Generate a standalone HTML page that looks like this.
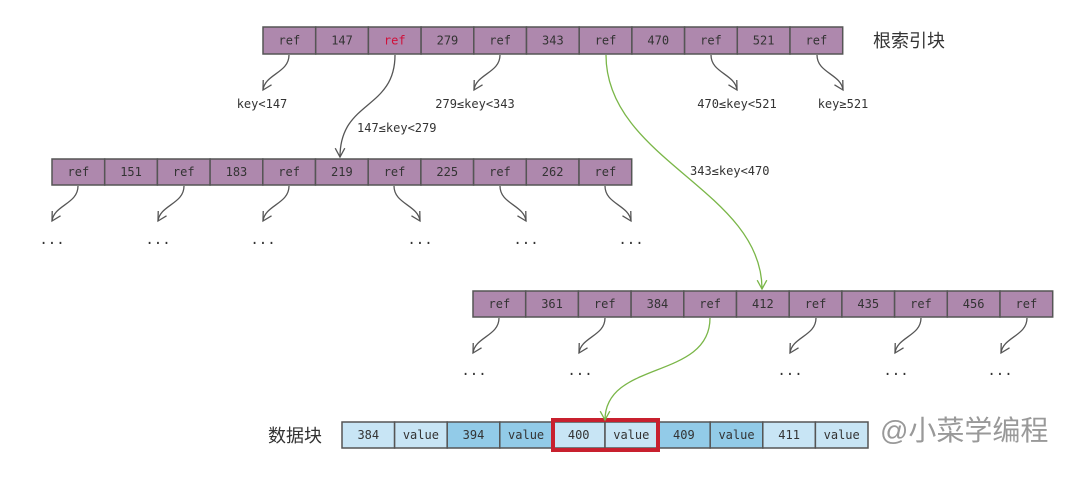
<!DOCTYPE html>
<html><head><meta charset="utf-8"><style>
body{margin:0;background:#fff;width:1080px;height:474px;overflow:hidden}
svg{font-family:"DejaVu Sans Mono","Liberation Mono",monospace}
</style></head><body>
<svg width="1080" height="474" xmlns="http://www.w3.org/2000/svg">
<g id="cells" font-size="12" text-anchor="middle" fill="#333"></g>
<g id="lines" fill="none" stroke="#555" stroke-width="1.3"></g>
<g id="txt" font-size="12" fill="#333"></g>
<text x="873" y="47" font-family="'Liberation Sans','Noto Sans CJK SC',sans-serif" font-size="18" fill="#333">根索引块</text>
<text x="268" y="442" font-family="'Liberation Sans','Noto Sans CJK SC',sans-serif" font-size="18" fill="#333">数据块</text>
<text x="880" y="440" font-family="'Liberation Sans','Noto Sans CJK SC',sans-serif" font-size="28" fill="#999">@小菜学编程</text>
</svg>
<script>
const NS="http://www.w3.org/2000/svg";
const cells=document.getElementById('cells'),lines=document.getElementById('lines'),txt=document.getElementById('txt');
function el(p,t,a){const e=document.createElementNS(NS,t);for(const k in a)e.setAttribute(k,a[k]);p.appendChild(e);return e}
function row(x,y,labels,fills,w,h){labels.forEach((l,i)=>{el(cells,'rect',{x:x+i*w,y:y,width:w,height:h,fill:fills(i),stroke:'#555','stroke-width':1.5});const t=el(cells,'text',{x:x+i*w+w/2,y:y+h/2+4,fill:l[1]||'#333'});t.textContent=l[0];})}
const P='#ae88ad';
row(263,27,[['ref'],['147'],['ref','#d0103a'],['279'],['ref'],['343'],['ref'],['470'],['ref'],['521'],['ref']],()=>P,52.7,27);
row(52,159,['ref','151','ref','183','ref','219','ref','225','ref','262','ref'].map(a=>[a]),()=>P,52.7,26);
row(473,291,['ref','361','ref','384','ref','412','ref','435','ref','456','ref'].map(a=>[a]),()=>P,52.7,26);
row(342,422,['384','value','394','value','400','value','409','value','411','value'].map(a=>[a]),i=>(Math.floor(i/2)%2)?'#92cbe8':'#c8e5f5',52.6,26);
el(cells,'rect',{x:553,y:420,width:105,height:30,fill:'none',stroke:'#c8202e','stroke-width':4});
function arr(d,ex,ey,ang,col){el(lines,'path',{d:d,stroke:col||'#555'});
 const a=ang*Math.PI/180,s=10,sp=0.5;
 const p1=[ex-s*Math.cos(a-sp),ey-s*Math.sin(a-sp)],p2=[ex-s*Math.cos(a+sp),ey-s*Math.sin(a+sp)];
 el(lines,'path',{d:`M${p1} L${ex},${ey} L${p2}`,stroke:col||'#555'});}
function small(x,y,dir,len){const ex=x+dir*26,ey=y+len;arr(`M${x},${y} C${x},${y+18} ${ex+dir*-2},${ey-16} ${ex},${ey}`,ex,ey,dir<0?120:60);}
[289,500].forEach(x=>small(x,55,-1,35));[711,817].forEach(x=>small(x,55,1,35));
[78,184,289].forEach(x=>small(x,186,-1,35));[394,500,605].forEach(x=>small(x,186,1,35));
[499,605].forEach(x=>small(x,318,-1,35));[816,921,1027].forEach(x=>small(x,318,-1,35));
arr('M395,55 C395,110 340,100 340,157',340,157,90);
arr('M606,55 C606,160 762,190 762,289',762,289,90,'#7ab648');
arr('M710,318 C710,380 605,360 605,420',605,420,90,'#7ab648');
function T(x,y,s,anc,fs){const t=el(txt,'text',{x:x,y:y,'text-anchor':anc||'middle'});if(fs)t.setAttribute('font-size',fs);t.textContent=s;}
T(262,108,'key<147');T(475,108,'279≤key<343');T(737,108,'470≤key<521');T(843,108,'key≥521');
T(357,132,'147≤key<279','start');T(690,175,'343≤key<470','start');
[52,158,263,420,526,631].forEach(x=>T(x,244,'...','middle',14));
[474,580,790,896,1000].forEach(x=>T(x,375,'...','middle',14));
</script>
</body></html>
